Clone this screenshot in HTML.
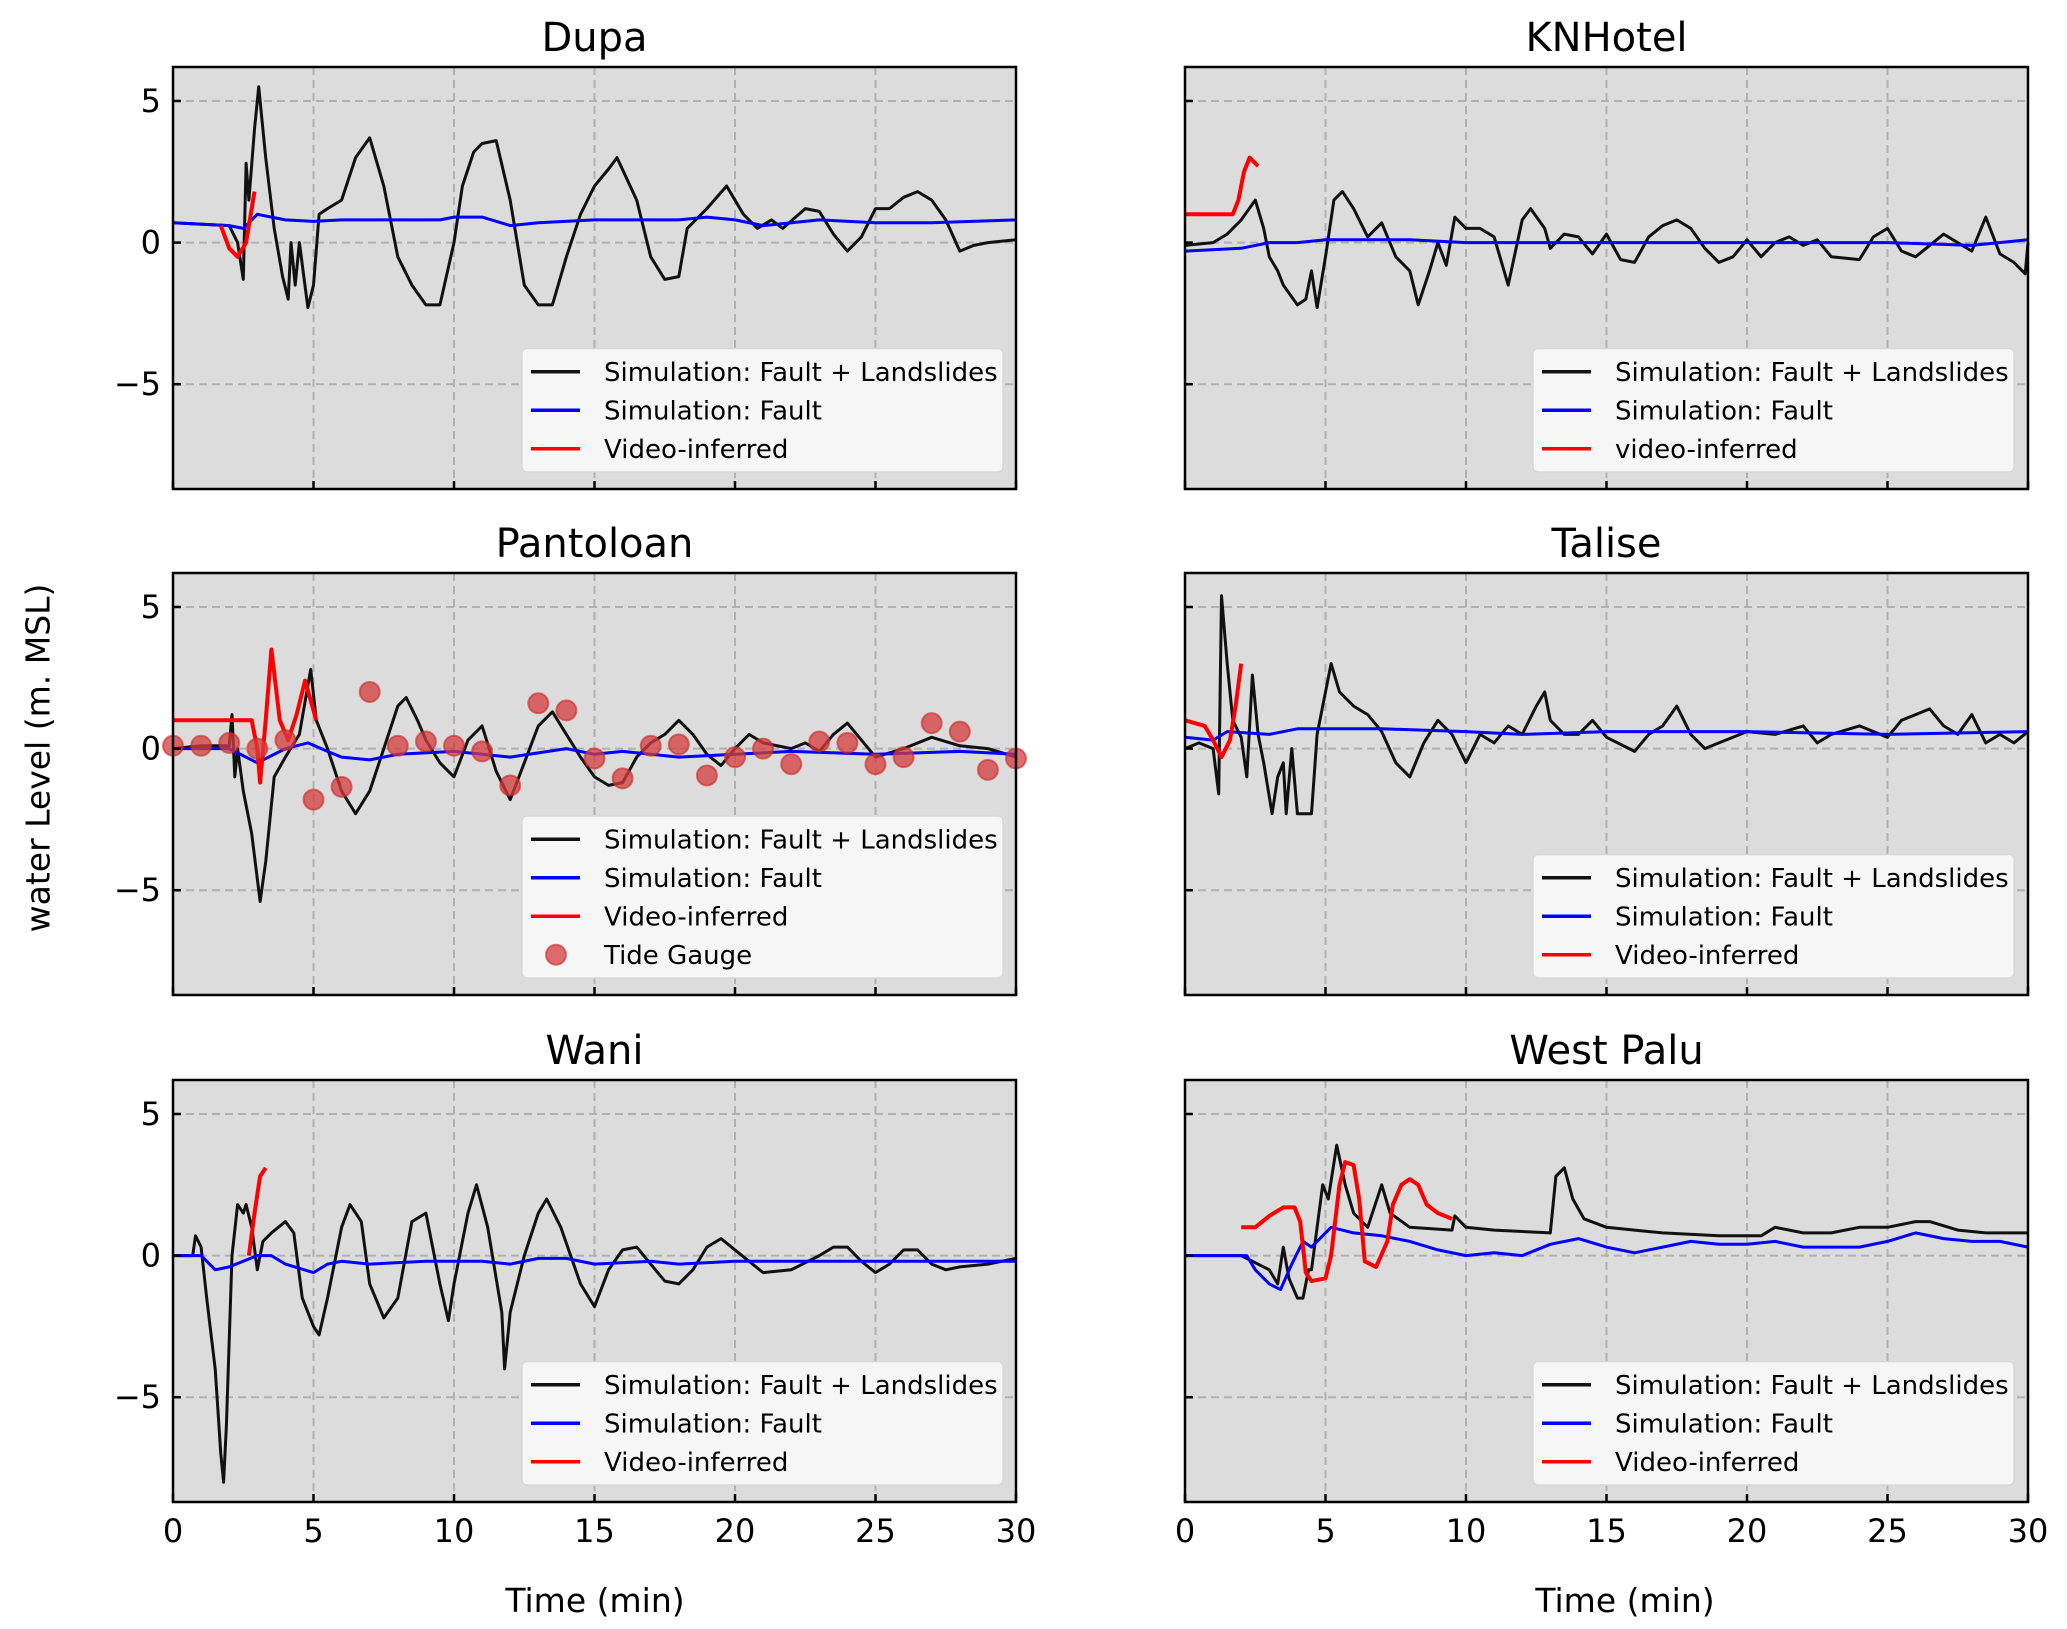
<!DOCTYPE html>
<html><head><meta charset="utf-8"><style>
body{margin:0;background:#fff}
svg{display:block;font-family:"DejaVu Sans","Liberation Sans",sans-serif}
</style></head><body>
<svg id="fig" width="2067" height="1629" viewBox="0 0 2067 1629" xmlns="http://www.w3.org/2000/svg">
<text x="0" y="0" transform="translate(40,758) rotate(-90)" font-size="33" text-anchor="middle" dominant-baseline="middle">water Level (m. MSL)</text>
<text x="595" y="1612" font-size="33" text-anchor="middle">Time (min)</text>
<text x="1625" y="1612" font-size="33" text-anchor="middle">Time (min)</text>
</svg>
<script>
const xTicks=[0,5,10,15,20,25,30];
const yTicks=[5,0,-5];
const titles=["Dupa","KNHotel","Pantoloan","Talise","Wani","West Palu"];
// Dupa
const dupaBlackT=[0,2,2.3,2.5,2.6,2.7,2.9,3.05,3.3,3.6,3.9,4.1,4.2,4.35,4.5,4.8,5.0,5.2,5.5,6,6.5,7,7.5,8,8.5,9,9.5,10,10.3,10.7,11,11.5,12,12.5,13,13.5,14,14.5,15,15.5,15.8,16.5,17,17.5,18,18.3,19,19.7,20.3,20.8,21.3,21.7,22.5,23,23.5,24,24.5,25,25.5,26,26.5,27,27.5,28,28.5,29,30];
const dupaBlackV=[0.7,0.6,0,-1.3,2.8,1.5,4,5.5,3,0.5,-1.2,-2,0,-1.5,0,-2.3,-1.5,1,1.2,1.5,3,3.7,2,-0.5,-1.5,-2.2,-2.2,0,2,3.2,3.5,3.6,1.5,-1.5,-2.2,-2.2,-0.5,1,2,2.6,3,1.5,-0.5,-1.3,-1.2,0.5,1.2,2,1,0.5,0.8,0.5,1.2,1.1,0.3,-0.3,0.2,1.2,1.2,1.6,1.8,1.5,0.8,-0.3,-0.1,0,0.1];
const dupaBlueT=[0,2,2.5,3,3.5,4,5,6,8,9.5,10,11,12,13,15,18,19,20,21,23,25,27,30];
const dupaBlueV=[0.7,0.6,0.5,1,0.9,0.8,0.75,0.8,0.8,0.8,0.9,0.9,0.6,0.7,0.8,0.8,0.9,0.8,0.6,0.8,0.7,0.7,0.8];
const dupaRedT=[1.7,2,2.3,2.6,2.9];
const dupaRedV=[0.6,-0.2,-0.5,0,1.8];
// KNHotel
const knBlackT=[0,1,1.5,2,2.5,2.8,3,3.3,3.5,4,4.3,4.5,4.7,5,5.3,5.6,6,6.5,7,7.5,8,8.3,8.7,9,9.3,9.6,10,10.5,11,11.5,12,12.3,12.8,13,13.5,14,14.5,15,15.5,16,16.5,17,17.5,18,18.5,19,19.5,20,20.5,21,21.5,22,22.5,23,24,24.5,25,25.5,26,26.5,27,28,28.5,29,29.5,29.9,30];
const knBlackV=[-0.1,0,0.3,0.8,1.5,0.5,-0.5,-1,-1.5,-2.2,-2,-1,-2.3,-0.5,1.5,1.8,1.2,0.2,0.7,-0.5,-1,-2.2,-1,0,-0.8,0.9,0.5,0.5,0.2,-1.5,0.8,1.2,0.5,-0.2,0.3,0.2,-0.4,0.3,-0.6,-0.7,0.2,0.6,0.8,0.5,-0.2,-0.7,-0.5,0.1,-0.5,0,0.2,-0.1,0.1,-0.5,-0.6,0.2,0.5,-0.3,-0.5,-0.1,0.3,-0.3,0.9,-0.4,-0.7,-1.1,0];
const knBlueT=[0,2,3,4,5,6,8,10,12,15,20,25,28,30];
const knBlueV=[-0.3,-0.2,0,0,0.1,0.1,0.1,0,0,0,0,0,-0.1,0.1];
const knRedT=[0,1.7,1.9,2.1,2.3,2.6];
const knRedV=[1,1,1.5,2.5,3,2.7];
// Pantoloan
const panBlackT=[0,1,2,2.1,2.2,2.3,2.5,2.8,3.1,3.3,3.6,4,4.5,4.9,5.1,5.5,6,6.5,7,7.5,8,8.3,8.7,9,9.5,10,10.5,11,11.5,12,12.5,13,13.5,14,14.5,15,15.5,16,16.5,17,17.5,18,18.5,19,19.5,20,20.5,21,22,22.5,23,23.5,24,24.5,25,26,27,28,29,30];
const panBlackV=[0,0.1,0.1,1.2,-1,0,-1.5,-3,-5.4,-4,-1,-0.3,0.5,2.8,1,0,-1.5,-2.3,-1.5,0,1.5,1.8,1,0.3,-0.5,-1,0.3,0.8,-0.8,-1.8,-0.5,0.8,1.3,0.5,-0.3,-1,-1.3,-1.2,-0.3,0.2,0.5,1,0.5,-0.2,-0.6,0,0.5,0.2,0,0.2,-0.1,0.5,0.9,0.3,-0.3,0,0.4,0.1,0,-0.3];
const panBlueT=[0,2,3,4,4.8,5.5,6,7,8,10,12,14,15,16,18,20,22,25,28,30];
const panBlueV=[0,0,-0.5,0,0.2,-0.1,-0.3,-0.4,-0.2,-0.1,-0.3,0,-0.2,-0.1,-0.3,-0.2,-0.1,-0.2,-0.1,-0.2];
const panRedT=[0,2.8,3,3.1,3.3,3.5,3.8,4.1,4.4,4.7,5.1];
const panRedV=[1,1,0,-1.2,1,3.5,1,0.3,1.2,2.4,1];
const gaugeT=[0,1,2,3,4,5,6,7,8,9,10,11,12,13,14,15,16,17,18,19,20,21,22,23,24,25,26,27,28,29,30];
const gaugeV=[0.1,0.1,0.2,0,0.3,-1.8,-1.35,2,0.1,0.25,0.1,-0.1,-1.3,1.6,1.35,-0.35,-1.05,0.1,0.15,-0.95,-0.3,0,-0.55,0.25,0.2,-0.55,-0.3,0.9,0.6,-0.75,-0.35];
// Talise
const talBlackT=[0,0.5,1,1.2,1.3,1.5,1.7,2,2.2,2.4,2.6,2.8,3.1,3.3,3.5,3.6,3.8,4,4.5,4.7,5,5.2,5.5,6,6.5,7,7.5,8,8.5,9,9.5,10,10.5,11,11.5,12,12.5,12.8,13,13.5,14,14.5,15,16,16.5,17,17.5,18,18.5,19,20,21,22,22.5,23,24,25,25.5,26,26.5,27,27.5,28,28.5,29,29.5,30];
const talBlackV=[0,0.2,0,-1.6,5.4,3,1,0.4,-1,2.6,0.5,-0.5,-2.3,-1,-0.5,-2.3,0,-2.3,-2.3,0.5,2,3,2,1.5,1.2,0.6,-0.5,-1,0.2,1,0.5,-0.5,0.5,0.2,0.8,0.5,1.5,2,1,0.5,0.5,1,0.4,-0.1,0.5,0.8,1.5,0.5,0,0.2,0.6,0.5,0.8,0.2,0.5,0.8,0.4,1,1.2,1.4,0.8,0.5,1.2,0.2,0.5,0.2,0.6];
const talBlueT=[0,1,1.5,3,4,5,7,10,12,15,20,25,30];
const talBlueV=[0.4,0.3,0.6,0.5,0.7,0.7,0.7,0.6,0.5,0.6,0.6,0.5,0.6];
const talRedT=[0,0.7,1,1.3,1.6,1.8,2];
const talRedV=[1,0.8,0.3,-0.3,0.3,1.5,3];
// Wani
const waniBlackT=[0,0.7,0.8,1,1.2,1.5,1.7,1.8,1.9,2.1,2.3,2.5,2.6,2.8,3,3.2,3.5,4,4.3,4.6,5,5.2,5.5,6,6.3,6.7,7,7.5,8,8.5,9,9.5,9.8,10,10.5,10.8,11.2,11.7,11.8,12,12.5,13,13.3,13.8,14.5,15,15.5,16,16.5,17,17.5,18,18.5,19,19.5,20,20.5,21,22,23,23.5,24,24.5,25,25.5,26,26.5,27,27.5,28,29,30];
const waniBlackV=[0,0,0.7,0.3,-1.5,-4,-7,-8,-6,0,1.8,1.5,1.8,1,-0.5,0.5,0.8,1.2,0.8,-1.5,-2.5,-2.8,-1.5,1,1.8,1.2,-1,-2.2,-1.5,1.2,1.5,-1,-2.3,-1,1.5,2.5,1,-2,-4,-2,0,1.5,2,1,-1,-1.8,-0.5,0.2,0.3,-0.3,-0.9,-1,-0.5,0.3,0.6,0.2,-0.2,-0.6,-0.5,0,0.3,0.3,-0.2,-0.6,-0.3,0.2,0.2,-0.3,-0.5,-0.4,-0.3,-0.1];
const waniBlueT=[0,1,1.5,2,3,3.5,4,5,5.5,6,7,9,10,11,12,13,14,15,17,18,20,25,30];
const waniBlueV=[0,0,-0.5,-0.4,0,0,-0.3,-0.6,-0.3,-0.2,-0.3,-0.2,-0.2,-0.2,-0.3,-0.1,-0.1,-0.3,-0.2,-0.3,-0.2,-0.2,-0.2];
const waniRedT=[2.7,2.9,3.1,3.3];
const waniRedV=[0,1.5,2.8,3.1];
// West Palu
const wpBlackT=[0,2,3,3.3,3.5,3.7,4,4.2,4.4,4.5,4.7,4.9,5.1,5.4,5.7,6,6.5,7,7.3,8,9.5,9.6,10,11,13,13.2,13.5,13.8,14.2,15,16,17,19,20,20.5,21,22,23,24,25,26,26.5,27.5,28.5,30];
const wpBlackV=[0,0,-0.5,-1,0.3,-0.8,-1.5,-1.5,-0.5,-0.5,1,2.5,2,3.9,2.5,1.5,1,2.5,1.5,1,0.9,1.4,1,0.9,0.8,2.8,3.1,2,1.3,1,0.9,0.8,0.7,0.7,0.7,1,0.8,0.8,1,1,1.2,1.2,0.9,0.8,0.8];
const wpBlueT=[0,2.2,2.5,3,3.4,3.8,4.2,4.5,5,5.2,6,7,8,9,10,11,12,13,14,15,16,17,18,19,20,21,22,23,24,25,26,27,28,29,30];
const wpBlueV=[0,0,-0.5,-1,-1.2,-0.3,0.5,0.3,0.8,1,0.8,0.7,0.5,0.2,0,0.1,0,0.4,0.6,0.3,0.1,0.3,0.5,0.4,0.4,0.5,0.3,0.3,0.3,0.5,0.8,0.6,0.5,0.5,0.3];
const wpRedT=[2,2.5,3,3.5,3.9,4.1,4.3,4.5,5,5.2,5.5,5.7,6,6.2,6.4,6.8,7.2,7.4,7.7,8,8.3,8.6,9,9.5];
const wpRedV=[1,1,1.4,1.7,1.7,1.2,-0.6,-0.9,-0.8,0,2.5,3.3,3.2,2,-0.2,-0.4,0.5,1.8,2.5,2.7,2.5,1.8,1.5,1.3];

const NS="http://www.w3.org/2000/svg";
const svg=document.getElementById('fig');
function mk(tag,attrs,parent){const e=document.createElementNS(NS,tag);for(const k in attrs)e.setAttribute(k,attrs[k]);(parent||svg).appendChild(e);return e;}
const colX=[173,1185], rowY=[67,573,1080], W=843, H=422, YMIN=-8.7, YMAX=6.2;
const panels=[
 {lines:[[dupaBlackT,dupaBlackV,'#111'],[dupaBlueT,dupaBlueV,'#0000ff'],[dupaRedT,dupaRedV,'#ff0000']],leg:["Simulation: Fault + Landslides","Simulation: Fault","Video-inferred"]},
 {lines:[[knBlackT,knBlackV,'#111'],[knBlueT,knBlueV,'#0000ff'],[knRedT,knRedV,'#ff0000']],leg:["Simulation: Fault + Landslides","Simulation: Fault","video-inferred"]},
 {lines:[[panBlackT,panBlackV,'#111'],[panBlueT,panBlueV,'#0000ff'],[panRedT,panRedV,'#ff0000']],leg:["Simulation: Fault + Landslides","Simulation: Fault","Video-inferred","Tide Gauge"],gauge:true},
 {lines:[[talBlackT,talBlackV,'#111'],[talBlueT,talBlueV,'#0000ff'],[talRedT,talRedV,'#ff0000']],leg:["Simulation: Fault + Landslides","Simulation: Fault","Video-inferred"]},
 {lines:[[waniBlackT,waniBlackV,'#111'],[waniBlueT,waniBlueV,'#0000ff'],[waniRedT,waniRedV,'#ff0000']],leg:["Simulation: Fault + Landslides","Simulation: Fault","Video-inferred"]},
 {lines:[[wpBlackT,wpBlackV,'#111'],[wpBlueT,wpBlueV,'#0000ff'],[wpRedT,wpRedV,'#ff0000']],leg:["Simulation: Fault + Landslides","Simulation: Fault","Video-inferred"]}
];
const legColors=['#111','#0000ff','#ff0000'];
panels.forEach((p,i)=>{
  const c=i%2,r=Math.floor(i/2),x0=colX[c],y0=rowY[r];
  const sx=t=>x0+t/30*W, sy=v=>y0+(YMAX-v)/(YMAX-YMIN)*H;
  const g=mk('g',{});
  
  
  const bg=mk('rect',{x:x0,y:y0,width:W,height:H,fill:'#dcdcdc'},g);
  
  
  xTicks.slice(1,-1).forEach(t=>{const l=mk('line',{x1:sx(t),x2:sx(t),y1:y0,y2:y0+H,stroke:'#b0b0b0','stroke-width':2,'stroke-dasharray':'8,5'},g);});
  yTicks.forEach(v=>{const l=mk('line',{x1:x0,x2:x0+W,y1:sy(v),y2:sy(v),stroke:'#b0b0b0','stroke-width':2,'stroke-dasharray':'8,5'},g);});
  p.lines.forEach((L,k)=>{
    const d=L[0].map((t,j)=>(j?'L':'M')+sx(t).toFixed(1)+','+sy(L[1][j]).toFixed(1)).join('');
    const pa=mk('path',{d:d,fill:'none',stroke:L[2],'stroke-width':k==2?4:3,'stroke-linejoin':'round'},g);
    
    
  });
  if(p.gauge){gaugeT.forEach((t,j)=>{const ci=mk('circle',{cx:sx(t),cy:sy(gaugeV[j]),r:10,fill:'rgba(214,60,60,0.75)',stroke:'rgba(200,40,40,0.6)','stroke-width':2},g);});}
  const fr=mk('rect',{x:x0,y:y0,width:W,height:H,fill:'none',stroke:'#000','stroke-width':2.5},g);
  
  
  xTicks.forEach(t=>{mk('line',{x1:sx(t),x2:sx(t),y1:y0+H,y2:y0+H-8,stroke:'#000','stroke-width':2.5},g);
    if(r==2){const tx=mk('text',{x:sx(t),y:y0+H+40,'font-size':32,'text-anchor':'middle'},g);tx.textContent=t;}});
  yTicks.forEach(v=>{mk('line',{x1:x0,x2:x0+8,y1:sy(v),y2:sy(v),stroke:'#000','stroke-width':2.5},g);
    if(c==0){const tx=mk('text',{x:x0-12,y:sy(v)+11,'font-size':32,'text-anchor':'end'},g);tx.textContent=v<0?'\u2212'+(-v):v;}});
  const ti=mk('text',{x:x0+W/2,y:y0-16,'font-size':40,'text-anchor':'middle'},g);
  ti.textContent=titles[i];
  
  
  const n=p.leg.length,lh=38.5,lw=481,lx=c==0?x0+W-13-lw:x0+348,lhgt=n*lh+8,ly=y0+H-17-lhgt;
  const lg=mk('g',{},g);
  
  
  mk('rect',{x:lx,y:ly,width:lw,height:lhgt,rx:5,fill:'#f6f6f6',stroke:'#d8d8d8','stroke-width':1.5},lg);
  p.leg.forEach((s,k)=>{
    const cy=ly+4+lh*(k+0.5);
    if(k<3)mk('line',{x1:lx+9,x2:lx+58,y1:cy,y2:cy,stroke:legColors[k],'stroke-width':3.5},lg);
    else mk('circle',{cx:lx+34,cy:cy,r:10,fill:'rgba(214,60,60,0.75)',stroke:'rgba(200,40,40,0.6)','stroke-width':2},lg);
    const tx=mk('text',{x:lx+82,y:cy+9,'font-size':26},lg);tx.textContent=s;
    
    
  });
});
</script>
</body></html>
